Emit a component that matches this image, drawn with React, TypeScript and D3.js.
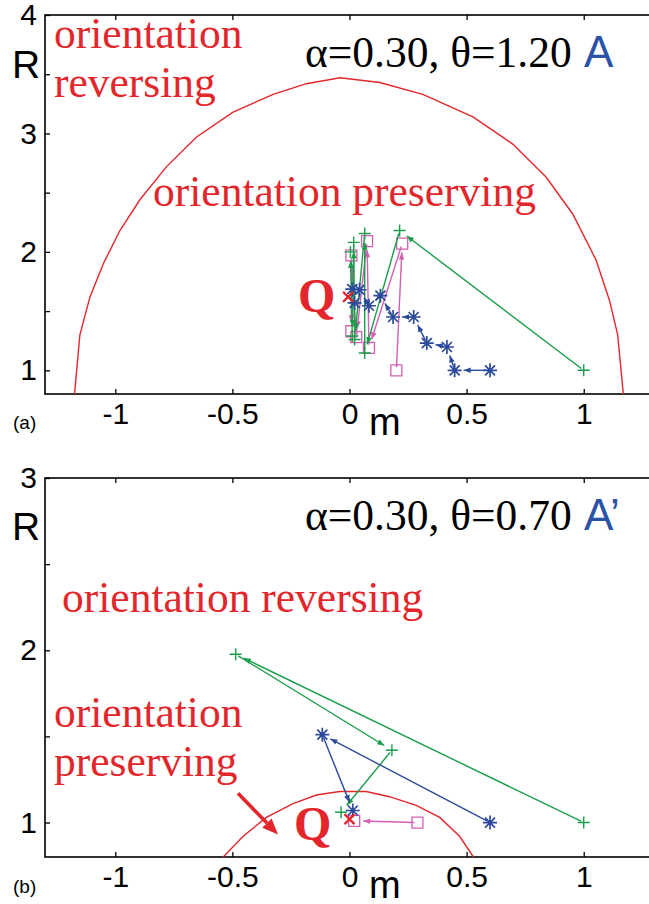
import React, { useEffect, useRef } from "react";
import * as d3 from "d3";

type Pt = [number, number];

const W = 649;
const H = 904;

const RED = "#e3262b";
const BLUE = "#2b4a9b";
const GREEN = "#1a9d4a";
const PINK = "#d45fb4";
const LABEL_BLUE = "#2a52a6";

// shared axis ticks
const xTicks = [-1, -0.5, 0, 0.5, 1];
const yTicksA = [1, 1.5, 2, 2.5, 3, 3.5, 4];
const yTicksB = [1, 1.5, 2, 2.5, 3];

// panel (a): alpha=0.30, theta=1.20 -- boundary of the orientation preserving region
const boundaryA: Pt[] = [
  [-1.174, 0.8], [-1.151, 1.3], [-1.108, 1.62], [-1.051, 1.9], [-0.98, 2.18],
  [-0.895, 2.44], [-0.781, 2.72], [-0.653, 2.97], [-0.497, 3.18], [-0.326, 3.33],
  [-0.184, 3.42], [-0.04, 3.47], [0.129, 3.43], [0.313, 3.33], [0.527, 3.14],
  [0.697, 2.91], [0.84, 2.63], [0.953, 2.32], [1.053, 1.93], [1.11, 1.59],
  [1.145, 1.3], [1.169, 0.8],
];
const blueA: Pt[] = [
  [0.6, 1.0], [0.449, 1.0], [0.416, 1.197], [0.33, 1.23], [0.274, 1.45],
  [0.186, 1.45], [0.132, 1.63], [0.083, 1.545], [0.043, 1.68], [0.022, 1.57], [0.012, 1.685],
];
const greenA: Pt[] = [
  [1.0, 1.0], [0.214, 2.18], [0.065, 1.146], [0.065, 2.155], [0.022, 1.26],
  [0.018, 2.08], [0.012, 1.29], [0.004, 2.0],
];
const pinkA: Pt[] = [
  [0.2, 1.0], [0.225, 2.07], [0.083, 1.19], [0.075, 2.09], [0.029, 1.28],
  [0.008, 1.97], [0.008, 1.33],
];
const qA: Pt = [-0.006, 1.62];

// panel (b): alpha=0.30, theta=0.70
const boundaryB: Pt[] = [
  [-0.539, 0.8], [-0.454, 0.92], [-0.355, 1.03], [-0.241, 1.11], [-0.141, 1.16],
  [-0.042, 1.18], [0.071, 1.18], [0.171, 1.15], [0.285, 1.1], [0.385, 1.03],
  [0.47, 0.92], [0.529, 0.8],
];
const blueB: Pt[] = [[0.6, 1.0], [-0.116, 1.51], [0.014, 1.07]];
const greenB: Pt[] = [[1.0, 1.0], [-0.486, 1.977], [0.181, 1.42], [-0.036, 1.06]];
const pinkB: Pt[] = [[0.29, 1.0], [0.02, 1.01]];
const qB: Pt = [0.0, 1.02];
const pointerB: Pt[] = [[-0.476, 1.17], [-0.305, 0.93]];

const MARK = {
  plus: "M-6,0H6M0,-6V6",
  star: "M-7,0H7M0,-7V7M-5,-5L5,5M-5,5L5,-5",
  square: "M-5.5,-5.5H5.5V5.5H-5.5Z",
  cross: "M-5,-5L5,5M-5,5L5,-5",
};

const panels = [
  {
    id: "a", top: 15, bottom: 394, yDomain: [0.8, 4], yTicks: yTicksA,
    boundary: boundaryA, blue: blueA, green: greenA, pink: pinkA, q: qA,
    pointer: null as Pt[] | null,
    texts: [
      { t: "orientation", x: 54, y: 48 },
      { t: "reversing", x: 54, y: 97 },
      { t: "orientation preserving", x: 153, y: 206 },
    ],
    title: "\u03b1=0.30, \u03b8=1.20", tag: "A", titleY: 67, qText: { x: 298, y: 312 },
    rY: 78, mY: 435, sub: "(a)", subY: 429,
  },
  {
    id: "b", top: 478, bottom: 857, yDomain: [0.8, 3], yTicks: yTicksB,
    boundary: boundaryB, blue: blueB, green: greenB, pink: pinkB, q: qB,
    pointer: pointerB,
    texts: [
      { t: "orientation reversing", x: 62, y: 612 },
      { t: "orientation", x: 54, y: 727 },
      { t: "preserving", x: 54, y: 776 },
    ],
    title: "\u03b1=0.30, \u03b8=0.70", tag: "A\u2019", titleY: 530, qText: { x: 294, y: 840 },
    rY: 540, mY: 898, sub: "(b)", subY: 893,
  },
];

function drawPanel(svg: any, p: (typeof panels)[number]) {
  const left = 45;
  const right = 654;
  const x = d3.scaleLinear().domain([-1.3, 1.3]).range([left, right]);
  const y = d3.scaleLinear().domain(p.yDomain).range([p.bottom, p.top]);
  const g = svg.append("g");

  const clipId = "clip-" + p.id;
  svg.append("clipPath").attr("id", clipId).append("rect")
    .attr("x", left).attr("y", p.top).attr("width", right - left).attr("height", p.bottom - p.top);

  // axes with inward ticks on all four sides
  const fmt = (d: any) => String(d);
  const yFmt = (d: any) => (Number.isInteger(d) ? String(d) : "");
  const axes = [
    { ax: d3.axisBottom(x).tickValues(xTicks).tickFormat(fmt).tickPadding(9), tr: `translate(0,${p.bottom})` },
    { ax: d3.axisTop(x).tickValues(xTicks).tickFormat(() => ""), tr: `translate(0,${p.top})` },
    { ax: d3.axisLeft(y).tickValues(p.yTicks).tickFormat(yFmt).tickPadding(8), tr: `translate(${left},0)` },
    { ax: d3.axisRight(y).tickValues(p.yTicks).tickFormat(() => ""), tr: `translate(${right},0)` },
  ];
  axes.forEach(({ ax, tr }) => {
    const a = g.append("g").attr("transform", tr)
      .call((ax as any).tickSizeInner(-5).tickSizeOuter(0));
    a.select(".domain").remove();
    a.selectAll("line").attr("stroke", "#000").attr("stroke-width", 1.3);
    a.attr("font-size", 30).attr("font-family", "'Liberation Sans', Arial, sans-serif");
    a.selectAll("text").attr("fill", "#000");
  });
  g.append("rect").attr("x", left).attr("y", p.top).attr("width", right - left)
    .attr("height", p.bottom - p.top).attr("fill", "none").attr("stroke", "#000").attr("stroke-width", 1.6);

  // region boundary
  const line = d3.line<Pt>().x((d) => x(d[0])).y((d) => y(d[1]));
  g.append("path").datum(p.boundary).attr("d", line).attr("fill", "none")
    .attr("stroke", RED).attr("stroke-width", 1.4).attr("clip-path", `url(#${clipId})`);

  // iteration paths with arrowheads
  const drawPath = (pts: Pt[], color: string, mark: string, sw: number) => {
    const px = pts.map((d) => [x(d[0]), y(d[1])]);
    for (let i = 0; i < px.length - 1; i++) {
      const [x0, y0] = px[i];
      const [x1, y1] = px[i + 1];
      const len = Math.hypot(x1 - x0, y1 - y0);
      if (len < 14) continue;
      const ux = (x1 - x0) / len;
      const uy = (y1 - y0) / len;
      const sx = x0 + ux * 3, sy = y0 + uy * 3;
      const ex = x1 - ux * 9, ey = y1 - uy * 9;
      g.append("line").attr("x1", sx).attr("y1", sy).attr("x2", ex).attr("y2", ey)
        .attr("stroke", color).attr("stroke-width", 1.4);
      const hl = 7, hw = 2.8;
      const bx = ex - ux * hl, by = ey - uy * hl;
      g.append("path")
        .attr("d", `M${ex},${ey}L${bx - uy * hw},${by + ux * hw}L${bx + uy * hw},${by - ux * hw}Z`)
        .attr("fill", color);
    }
    g.append("g").selectAll("path").data(px).join("path")
      .attr("transform", (d) => `translate(${d[0]},${d[1]})`)
      .attr("d", mark).attr("fill", "none").attr("stroke", color).attr("stroke-width", sw);
  };
  drawPath(p.pink, PINK, MARK.square, 1.3);
  drawPath(p.green, GREEN, MARK.plus, 1.4);
  drawPath(p.blue, BLUE, MARK.star, 1.7);

  g.append("path").attr("transform", `translate(${x(p.q[0])},${y(p.q[1])})`)
    .attr("d", MARK.cross).attr("stroke", RED).attr("stroke-width", 2.2).attr("fill", "none");

  if (p.pointer) {
    const [a, b] = p.pointer.map((d) => [x(d[0]), y(d[1])]);
    const len = Math.hypot(b[0] - a[0], b[1] - a[1]);
    const ux = (b[0] - a[0]) / len, uy = (b[1] - a[1]) / len;
    const hl = 16, hw = 6.5;
    const bx = b[0] - ux * hl, by = b[1] - uy * hl;
    g.append("line").attr("x1", a[0]).attr("y1", a[1]).attr("x2", bx).attr("y2", by)
      .attr("stroke", RED).attr("stroke-width", 3.6);
    g.append("path")
      .attr("d", `M${b[0]},${b[1]}L${bx - uy * hw},${by + ux * hw}L${bx + uy * hw},${by - ux * hw}Z`)
      .attr("fill", RED);
  }

  // labels
  const serif = "'Liberation Serif', 'Times New Roman', serif";
  const sans = "'Liberation Sans', Arial, sans-serif";
  p.texts.forEach((t) => {
    g.append("text").attr("x", t.x).attr("y", t.y).attr("fill", RED)
      .attr("font-family", serif).attr("font-size", 43.5).text(t.t);
  });
  g.append("text").attr("x", 305).attr("y", p.titleY).attr("fill", "#000")
    .attr("font-family", serif).attr("font-size", 43.5).text(p.title);
  g.append("text").attr("x", 584).attr("y", p.titleY).attr("fill", LABEL_BLUE)
    .attr("font-family", sans).attr("font-size", 44).attr("font-weight", 500).text(p.tag);
  g.append("text").attr("x", p.qText.x).attr("y", p.qText.y).attr("fill", RED)
    .attr("font-family", serif).attr("font-weight", "bold").attr("font-size", 48).text("Q");
  g.append("text").attr("x", 12).attr("y", p.rY).attr("fill", "#000")
    .attr("font-family", sans).attr("font-size", 39).text("R");
  g.append("text").attr("x", 369).attr("y", p.mY).attr("fill", "#000")
    .attr("font-family", sans).attr("font-size", 38).text("m");
  g.append("text").attr("x", 13).attr("y", p.subY).attr("fill", "#000")
    .attr("font-family", sans).attr("font-size", 19).text(p.sub);
}

export default function App() {
  const ref = useRef<SVGSVGElement>(null);
  useEffect(() => {
    const svg = d3.select(ref.current);
    svg.selectAll("*").remove();
    panels.forEach((p) => drawPanel(svg, p));
  }, []);
  return (
    <svg
      ref={ref}
      width={W}
      height={H}
      style={{ position: "absolute", left: 0, top: 0, background: "#fff" }}
    />
  );
}
